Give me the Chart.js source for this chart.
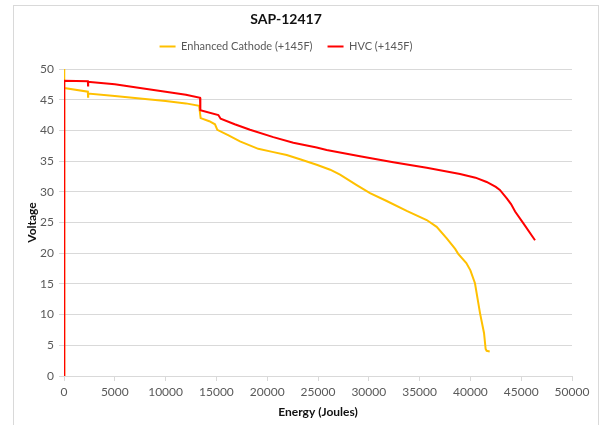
<!DOCTYPE html>
<html>
<head>
<meta charset="utf-8">
<script src="https://cdn.jsdelivr.net/npm/chart.js@4"></script>
<style>
  body { margin: 0; background: #fff; }
  #wrap { position: relative; width: 600px; height: 425px; }
</style>
</head>
<body>
<div id="wrap"><canvas id="myChart" width="600" height="425"></canvas></div>
<script>
/*------------------------------data------------------------------------*/
var chartTitle = "SAP-12417";
var seriesNames = ["Enhanced Cathode (+145F)", "HVC (+145F)"];

var cathodeEnergy = [0, 0, 50, 2350, 2365, 2380, 5000, 7480, 10000, 12000, 13300, 13450, 14300, 14860, 15090,
  16200, 17320, 19120, 20500, 21920, 23230, 24870, 26200, 27170, 28810, 30120, 31760, 33730, 35700,
  36680, 37670, 38500, 38800, 39600, 40000, 40450, 40950, 41340, 41500, 41600, 41900];
var cathodeVolts = [0, 50, 46.9, 46.3, 45.5, 46.0, 45.6, 45.2, 44.8, 44.4, 44.0, 42.0, 41.5, 41.0, 40.1,
  39.2, 38.2, 37.0, 36.5, 36.0, 35.3, 34.4, 33.6, 32.8, 31.1, 29.8, 28.5, 26.9, 25.4,
  24.3, 22.4, 20.7, 19.9, 18.4, 17.2, 15.1, 10.2, 7.0, 4.4, 4.1, 4.0];

var hvcEnergy = [0, 0, 50, 2350, 2365, 2380, 2560, 5000, 7480, 10000, 12000, 13390, 13420, 15190, 15420,
  16800, 18310, 20600, 22570, 24870, 25850, 29130, 32410, 35700, 38980, 40500, 41600, 42500, 42900,
  43600, 44000, 44400, 45200, 46360];
var hvcVolts = [0, 48.1, 48.1, 48.0, 47.3, 47.9, 47.9, 47.5, 46.9, 46.3, 45.8, 45.3, 43.3, 42.5, 41.9,
  41.0, 40.1, 38.9, 38.0, 37.2, 36.8, 35.8, 34.8, 33.9, 32.9, 32.3, 31.6, 30.8, 30.3,
  28.9, 28.0, 26.8, 24.9, 22.1];

var xTicks = [0, 5000, 10000, 15000, 20000, 25000, 30000, 35000, 40000, 45000, 50000];
var yTicks = [0, 5, 10, 15, 20, 25, 30, 35, 40, 45, 50];

function pairs(xs, ys) {
  return xs.map(function (x, i) { return { x: x, y: ys[i] }; });
}

/*------------------------------frame------------------------------------*/
var framePlugin = {
  id: "frame",
  beforeDraw: function (chart) {
    var ctx = chart.ctx;
    ctx.save();
    ctx.strokeStyle = "#d9d9d9";
    ctx.lineWidth = 1;
    ctx.strokeRect(13.5, 5.5, 585, 430);
    ctx.restore();
  }
};

/*------------------------------chart------------------------------------*/
new Chart("myChart", {
  type: "scatter",
  data: {
    datasets: [{
      label: seriesNames[0],
      data: pairs(cathodeEnergy, cathodeVolts),
      showLine: true,
      borderColor: "#FFC000",
      backgroundColor: "#FFC000",
      borderWidth: 2,
      pointRadius: 0,
      tension: 0,
      order: 1
    }, {
      label: seriesNames[1],
      data: pairs(hvcEnergy, hvcVolts),
      showLine: true,
      borderColor: "#FF0000",
      backgroundColor: "#FF0000",
      borderWidth: 2,
      pointRadius: 0,
      tension: 0,
      order: 0
    }]
  },
  options: {
    responsive: false,
    animation: false,
    layout: { padding: { left: 0, right: 28, top: 0, bottom: 0 } },
    plugins: {
      tooltip: { enabled: false },
      title: {
        display: true,
        text: chartTitle,
        color: "#111",
        font: { family: "Lato", size: 14, weight: "bold", lineHeight: 1 },
        padding: { top: 12, bottom: 0 }
      },
      // empty subtitle used as a spacer under the legend
      subtitle: {
        display: true,
        text: " ",
        weight: 100,
        font: { size: 7, lineHeight: 1 },
        padding: 0
      },
      legend: {
        display: true,
        weight: 1600,
        labels: {
          color: "#595959",
          font: { family: "Lato", size: 11 },
          usePointStyle: true,
          pointStyle: "line",
          pointStyleWidth: 16,
          padding: 15,
          sort: function (a, b) { return a.datasetIndex - b.datasetIndex; }
        }
      }
    },
    scales: {
      x: {
        type: "linear",
        min: 0,
        max: 50000,
        afterBuildTicks: function (s) { s.ticks = xTicks.map(function (v) { return { value: v }; }); },
        afterFit: function (s) { s.height = 49; s.paddingLeft = 0; s.paddingRight = 0; },
        grid: { drawOnChartArea: false, drawTicks: true, tickLength: 5, color: "#d9d9d9" },
        border: { color: "#d9d9d9" },
        ticks: {
          autoSkip: false, maxRotation: 0, padding: 4, color: "#595959",
          font: { family: "Lato", size: 12 },
          callback: function (v) { return String(v); }
        },
        title: {
          display: true,
          text: "Energy (Joules)",
          color: "#111",
          font: { family: "Lato", size: 12, weight: "bold" },
          padding: { top: 0, bottom: 6 }
        }
      },
      y: {
        min: 0,
        max: 50,
        afterBuildTicks: function (s) { s.ticks = yTicks.map(function (v) { return { value: v }; }); },
        afterFit: function (s) { s.width = 64; s.paddingTop = 0; s.paddingBottom = 0; },
        grid: { drawOnChartArea: true, drawTicks: true, tickLength: 5, color: "#d9d9d9" },
        border: { color: "#d9d9d9" },
        ticks: { padding: 5, color: "#595959", font: { family: "Lato", size: 12 } },
        title: {
          display: true,
          text: "Voltage",
          color: "#111",
          font: { family: "Lato", size: 12, weight: "bold" },
          padding: { top: 25, bottom: 0 }
        }
      }
    }
  },
  plugins: [framePlugin]
});
</script>
</body>
</html>
